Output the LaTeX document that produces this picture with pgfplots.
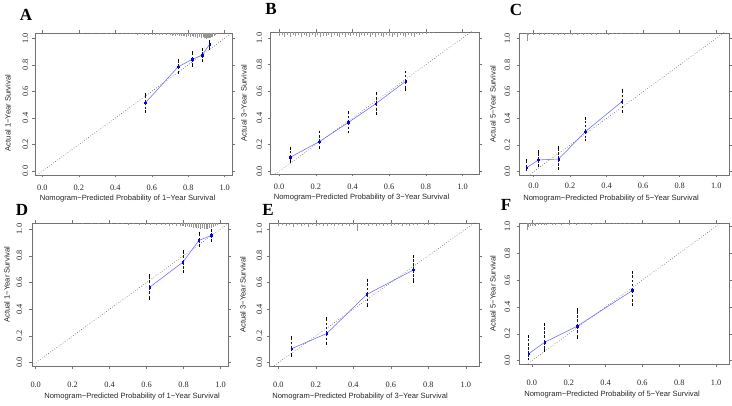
\documentclass[border=0pt]{standalone}
\usepackage{fontspec}
\setmainfont{Liberation Serif}
\newfontfamily\arialf{Liberation Sans}
\usepackage{pgfplots}
\pgfplotsset{compat=1.18}
\definecolor{calblue}{RGB}{105,105,255}
\definecolor{rugc}{RGB}{150,150,150}
\pgfplotsset{
 calib/.style={
  scale only axis, anchor=south west,
  axis line style={black!55, line width=0.45pt},
  tick style={black!55, line width=0.45pt},
  tick align=outside, major tick length=2.5pt,
  xtick={0,0.2,0.4,0.6,0.8,1.0}, ytick={0,0.2,0.4,0.6,0.8,1.0},
  /pgf/number format/fixed, /pgf/number format/fixed zerofill,
  /pgf/number format/precision=1, /pgf/number format/assume math mode=true,
  ticklabel style={font=\fontsize{8.3}{9}\selectfont, text=black!85},
  label style={font=\arialf\fontsize{7.6}{9}\selectfont, text=black!85},
 },
 xtl/.style={xticklabel style={anchor=center, yshift=-#1}},
 ytl/.style={yticklabel style={xshift=-#1, rotate=90, anchor=center}},
 xlab/.style 2 args={xlabel style={at={([xshift=#1,yshift=#2]rel axis cs:0.5,0)}, anchor=center}},
 ylab/.style 2 args={ylabel style={at={([xshift=#1,yshift=#2]rel axis cs:0,0.5)}, anchor=center}},
 diag/.style={dotted, black!75, line width=0.55pt},
 rug/.style={draw=none, mark=none, error bars/.cd, y dir=minus, y explicit, error mark=none,
   error bar style={draw=rugc, line width=0.4pt}},
 cal/.style={calblue, line width=0.55pt, mark=square*, mark size=0.8pt, mark options={blue, solid},
   error bars/.cd, y dir=both, y explicit,
   error bar style={black!90, dashed, dash pattern=on 2.6pt off 1.6pt, line width=0.55pt},
   error mark options={black, solid, mark size=1.3pt, line width=0.55pt}},
}
\begin{document}
\begin{tikzpicture}
\path[use as bounding box] (0pt,0pt) rectangle (732pt,405pt);
\tikzset{panel/.style={font=\fontsize{17}{17}\selectfont\bfseries}}
\node[panel] at (26pt,390pt) {A};
\node[panel] at (271pt,396pt) {B};
\node[panel] at (516pt,395pt) {C};
\node[panel] at (22pt,195pt) {D};
\node[panel] at (268pt,195pt) {E};
\node[panel] at (506pt,200pt) {F};

% ---------------- A
\begin{axis}[calib, at={(35pt,230pt)}, width=197pt, height=142pt,
  xmin=-0.04, xmax=1.04, ymin=-0.03, ymax=1.04,
  xtl=10pt, ytl=7pt, xlab={-6pt}{-24pt}, ylab={-27pt}{-9pt},
  xlabel={Nomogram−Predicted Probability of 1−Year Survival},
  ylabel={Actual 1−Year Survival}]
\addplot[diag] coordinates {(-0.2,-0.2) (1.2,1.2)};
\addplot[rug] coordinates {
(0.22,1.04) -= (0,0.004) (0.27,1.04) -= (0,0.005) (0.31,1.04) -= (0,0.006) (0.35,1.04) -= (0,0.006)
(0.38,1.04) -= (0,0.008) (0.41,1.04) -= (0,0.007) (0.44,1.04) -= (0,0.009) (0.46,1.04) -= (0,0.008)
(0.48,1.04) -= (0,0.011) (0.50,1.04) -= (0,0.009) (0.52,1.04) -= (0,0.012) (0.54,1.04) -= (0,0.010)
(0.56,1.04) -= (0,0.013) (0.58,1.04) -= (0,0.012) (0.60,1.04) -= (0,0.015) (0.62,1.04) -= (0,0.012)
(0.64,1.04) -= (0,0.016) (0.66,1.04) -= (0,0.014) (0.68,1.04) -= (0,0.018) (0.70,1.04) -= (0,0.015)
(0.71,1.04) -= (0,0.019) (0.72,1.04) -= (0,0.016) (0.73,1.04) -= (0,0.021) (0.74,1.04) -= (0,0.018)
(0.75,1.04) -= (0,0.023) (0.76,1.04) -= (0,0.019) (0.77,1.04) -= (0,0.025) (0.78,1.04) -= (0,0.021)
(0.79,1.04) -= (0,0.027) (0.80,1.04) -= (0,0.022) (0.81,1.04) -= (0,0.029) (0.82,1.04) -= (0,0.025)
(0.83,1.04) -= (0,0.031) (0.84,1.04) -= (0,0.027) (0.85,1.04) -= (0,0.034) (0.86,1.04) -= (0,0.029)
(0.87,1.04) -= (0,0.037) (0.88,1.04) -= (0,0.032) (0.89,1.04) -= (0,0.040) (0.895,1.04) -= (0,0.034)
(0.90,1.04) -= (0,0.042) (0.905,1.04) -= (0,0.036) (0.91,1.04) -= (0,0.040) (0.915,1.04) -= (0,0.038)
(0.92,1.04) -= (0,0.036) (0.925,1.04) -= (0,0.030) (0.93,1.04) -= (0,0.028) (0.94,1.04) -= (0,0.020)
(0.95,1.04) -= (0,0.012)};
\addplot[cal] coordinates {
(0.566,0.515) += (0,0.063) -= (0,0.068)
(0.745,0.786) += (0,0.051) -= (0,0.045)
(0.823,0.842) += (0,0.050) -= (0,0.048)
(0.876,0.874) += (0,0.043) -= (0,0.045)
(0.918,0.955) += (0,0.020) -= (0,0.030)};
\end{axis}

% ---------------- B
\begin{axis}[calib, at={(270pt,231pt)}, width=209pt, height=142pt,
  xmin=-0.05, xmax=1.09, ymin=-0.02, ymax=1.045,
  xtl=10pt, ytl=8pt, xlab={-13pt}{-24pt}, ylab={-26pt}{0pt},
  xlabel={Nomogram−Predicted Probability of 3−Year Survival},
  ylabel={Actual 3−Year Survival}]
\addplot[diag] coordinates {(-0.2,-0.2) (1.2,1.2)};
\addplot[rug] coordinates {
(0.000,1.045) -= (0,0.030) (0.015,1.045) -= (0,0.020) (0.030,1.045) -= (0,0.035) (0.045,1.045) -= (0,0.022)
(0.060,1.045) -= (0,0.040) (0.075,1.045) -= (0,0.025) (0.090,1.045) -= (0,0.032) (0.105,1.045) -= (0,0.020)
(0.120,1.045) -= (0,0.036) (0.135,1.045) -= (0,0.024) (0.150,1.045) -= (0,0.030) (0.165,1.045) -= (0,0.038)
(0.180,1.045) -= (0,0.022) (0.195,1.045) -= (0,0.034) (0.210,1.045) -= (0,0.026) (0.225,1.045) -= (0,0.040)
(0.240,1.045) -= (0,0.028) (0.255,1.045) -= (0,0.032) (0.270,1.045) -= (0,0.020) (0.285,1.045) -= (0,0.036)
(0.300,1.045) -= (0,0.024) (0.315,1.045) -= (0,0.030) (0.330,1.045) -= (0,0.038) (0.345,1.045) -= (0,0.022)
(0.360,1.045) -= (0,0.034) (0.375,1.045) -= (0,0.026) (0.390,1.045) -= (0,0.032) (0.405,1.045) -= (0,0.020)
(0.420,1.045) -= (0,0.028) (0.435,1.045) -= (0,0.036) (0.450,1.045) -= (0,0.022) (0.465,1.045) -= (0,0.030)
(0.480,1.045) -= (0,0.024) (0.495,1.045) -= (0,0.034) (0.510,1.045) -= (0,0.026) (0.525,1.045) -= (0,0.038)
(0.540,1.045) -= (0,0.022) (0.555,1.045) -= (0,0.032) (0.570,1.045) -= (0,0.040) (0.585,1.045) -= (0,0.024)
(0.600,1.045) -= (0,0.030) (0.615,1.045) -= (0,0.036) (0.630,1.045) -= (0,0.020) (0.645,1.045) -= (0,0.034)
(0.660,1.045) -= (0,0.026) (0.675,1.045) -= (0,0.030) (0.690,1.045) -= (0,0.038) (0.705,1.045) -= (0,0.022)
(0.720,1.045) -= (0,0.028) (0.735,1.045) -= (0,0.034) (0.750,1.045) -= (0,0.018) (0.765,1.045) -= (0,0.026)
(0.780,1.045) -= (0,0.014) (0.800,1.045) -= (0,0.018) (0.820,1.045) -= (0,0.010) (0.840,1.045) -= (0,0.008)};
\addplot[cal] coordinates {
(0.060,0.105) += (0,0.065) -= (0,0.030)
(0.218,0.222) += (0,0.073) -= (0,0.047)
(0.378,0.367) += (0,0.073) -= (0,0.072)
(0.527,0.507) += (0,0.080) -= (0,0.075)
(0.690,0.675) += (0,0.070) -= (0,0.063)};
\end{axis}

% ---------------- C
\begin{axis}[calib, at={(519pt,230pt)}, width=210pt, height=142pt,
  xmin=-0.08, xmax=1.07, ymin=-0.025, ymax=1.04,
  xtl=8pt, ytl=9pt, xlab={-13pt}{-24pt}, ylab={-26pt}{0pt},
  xlabel={Nomogram−Predicted Probability of 5−Year Survival},
  ylabel={Actual 5−Year Survival}]
\addplot[diag] coordinates {(-0.2,-0.2) (1.2,1.2)};
\addplot[rug] coordinates {
(-0.035,1.04) -= (0,0.060) (-0.030,1.04) -= (0,0.012) (-0.015,1.04) -= (0,0.010) (0.000,1.04) -= (0,0.013)
(0.015,1.04) -= (0,0.009) (0.030,1.04) -= (0,0.012) (0.045,1.04) -= (0,0.010) (0.060,1.04) -= (0,0.014)
(0.075,1.04) -= (0,0.009) (0.090,1.04) -= (0,0.011) (0.105,1.04) -= (0,0.013) (0.120,1.04) -= (0,0.009)
(0.135,1.04) -= (0,0.012) (0.150,1.04) -= (0,0.010) (0.165,1.04) -= (0,0.014) (0.180,1.04) -= (0,0.009)
(0.195,1.04) -= (0,0.011) (0.210,1.04) -= (0,0.013) (0.225,1.04) -= (0,0.009) (0.240,1.04) -= (0,0.012)
(0.255,1.04) -= (0,0.010) (0.270,1.04) -= (0,0.013) (0.285,1.04) -= (0,0.009) (0.300,1.04) -= (0,0.011)
(0.315,1.04) -= (0,0.012) (0.330,1.04) -= (0,0.009) (0.345,1.04) -= (0,0.013) (0.360,1.04) -= (0,0.010)
(0.375,1.04) -= (0,0.011) (0.390,1.04) -= (0,0.009) (0.410,1.04) -= (0,0.012) (0.430,1.04) -= (0,0.008)
(0.450,1.04) -= (0,0.010) (0.480,1.04) -= (0,0.008) (0.510,1.04) -= (0,0.007) (0.550,1.04) -= (0,0.006)
(0.580,1.04) -= (0,0.005)};
\addplot[cal] coordinates {
(-0.038,0.030) += (0,0.058) -= (0,0.018)
(0.027,0.088) += (0,0.062) -= (0,0.043)
(0.137,0.095) += (0,0.085) -= (0,0.070)
(0.283,0.300) += (0,0.100) -= (0,0.063)
(0.483,0.525) += (0,0.088) -= (0,0.075)};
\end{axis}

% ---------------- D
\begin{axis}[calib, at={(32pt,39pt)}, width=196pt, height=143pt,
  xmin=-0.02, xmax=1.04, ymin=-0.025, ymax=1.045,
  xtl=16pt, ytl=10pt, xlab={2pt}{-31pt}, ylab={-25pt}{10pt},
  xlabel={Nomogram−Predicted Probability of 1−Year Survival},
  ylabel={Actual 1−Year Survival}]
\addplot[diag] coordinates {(-0.2,-0.2) (1.2,1.2)};
\addplot[rug] coordinates {
(0.25,1.045) -= (0,0.005) (0.30,1.045) -= (0,0.006) (0.34,1.045) -= (0,0.007) (0.38,1.045) -= (0,0.008)
(0.41,1.045) -= (0,0.007) (0.44,1.045) -= (0,0.010) (0.47,1.045) -= (0,0.009) (0.50,1.045) -= (0,0.012)
(0.53,1.045) -= (0,0.010) (0.56,1.045) -= (0,0.014) (0.59,1.045) -= (0,0.012) (0.62,1.045) -= (0,0.016)
(0.65,1.045) -= (0,0.013) (0.68,1.045) -= (0,0.018) (0.70,1.045) -= (0,0.015) (0.72,1.045) -= (0,0.020)
(0.74,1.045) -= (0,0.017) (0.76,1.045) -= (0,0.023) (0.78,1.045) -= (0,0.019) (0.79,1.045) -= (0,0.026)
(0.80,1.045) -= (0,0.021) (0.81,1.045) -= (0,0.029) (0.82,1.045) -= (0,0.024) (0.83,1.045) -= (0,0.032)
(0.84,1.045) -= (0,0.027) (0.85,1.045) -= (0,0.036) (0.86,1.045) -= (0,0.030) (0.87,1.045) -= (0,0.040)
(0.88,1.045) -= (0,0.034) (0.89,1.045) -= (0,0.045) (0.90,1.045) -= (0,0.038) (0.91,1.045) -= (0,0.048)
(0.92,1.045) -= (0,0.042) (0.93,1.045) -= (0,0.046) (0.94,1.045) -= (0,0.040) (0.95,1.045) -= (0,0.036)
(0.96,1.045) -= (0,0.028) (0.97,1.045) -= (0,0.020) (0.98,1.045) -= (0,0.012)};
\addplot[cal] coordinates {
(0.616,0.564) += (0,0.093) -= (0,0.083)
(0.796,0.752) += (0,0.080) -= (0,0.070)
(0.883,0.915) += (0,0.055) -= (0,0.040)
(0.951,0.952) += (0,0.038) -= (0,0.037)};
\end{axis}

% ---------------- E
\begin{axis}[calib, at={(269pt,39pt)}, width=210pt, height=143pt,
  xmin=-0.05, xmax=1.07, ymin=-0.025, ymax=1.045,
  xtl=16pt, ytl=7pt, xlab={-14pt}{-31pt}, ylab={-26pt}{0pt},
  xlabel={Nomogram−Predicted Probability of 3−Year Survival},
  ylabel={Actual 3−Year Survival}]
\addplot[diag] coordinates {(-0.2,-0.2) (1.2,1.2)};
\addplot[rug] coordinates {
(0.000,1.045) -= (0,0.020) (0.020,1.045) -= (0,0.012) (0.040,1.045) -= (0,0.024) (0.060,1.045) -= (0,0.015)
(0.080,1.045) -= (0,0.028) (0.100,1.045) -= (0,0.014) (0.120,1.045) -= (0,0.022) (0.140,1.045) -= (0,0.018)
(0.160,1.045) -= (0,0.032) (0.180,1.045) -= (0,0.015) (0.200,1.045) -= (0,0.024) (0.220,1.045) -= (0,0.013)
(0.240,1.045) -= (0,0.020) (0.260,1.045) -= (0,0.026) (0.280,1.045) -= (0,0.014) (0.300,1.045) -= (0,0.022)
(0.320,1.045) -= (0,0.016) (0.340,1.045) -= (0,0.025) (0.360,1.045) -= (0,0.013) (0.380,1.045) -= (0,0.020)
(0.400,1.045) -= (0,0.015) (0.420,1.045) -= (0,0.060) (0.440,1.045) -= (0,0.018) (0.460,1.045) -= (0,0.012)
(0.480,1.045) -= (0,0.022) (0.500,1.045) -= (0,0.015) (0.520,1.045) -= (0,0.026) (0.540,1.045) -= (0,0.013)
(0.560,1.045) -= (0,0.020) (0.580,1.045) -= (0,0.016) (0.600,1.045) -= (0,0.024) (0.620,1.045) -= (0,0.012)
(0.640,1.045) -= (0,0.018) (0.660,1.045) -= (0,0.022) (0.680,1.045) -= (0,0.014) (0.700,1.045) -= (0,0.020)
(0.720,1.045) -= (0,0.012) (0.740,1.045) -= (0,0.018) (0.760,1.045) -= (0,0.010) (0.780,1.045) -= (0,0.015)
(0.800,1.045) -= (0,0.012) (0.830,1.045) -= (0,0.016) (0.860,1.045) -= (0,0.010)};
\addplot[cal] coordinates {
(0.071,0.105) += (0,0.088) -= (0,0.050)
(0.258,0.218) += (0,0.113) -= (0,0.075)
(0.472,0.511) += (0,0.108) -= (0,0.087)
(0.721,0.694) += (0,0.100) -= (0,0.088)};
\end{axis}

% ---------------- F
\begin{axis}[calib, at={(519pt,41pt)}, width=210pt, height=141pt,
  xmin=-0.07, xmax=1.07, ymin=-0.025, ymax=1.025,
  xtl=16pt, ytl=9pt, xlab={-12pt}{-31pt}, ylab={-26pt}{0pt},
  xlabel={Nomogram−Predicted Probability of 5−Year Survival},
  ylabel={Actual 5−Year Survival}]
\addplot[diag] coordinates {(-0.2,-0.2) (1.2,1.2)};
\addplot[rug] coordinates {
(-0.025,1.025) -= (0,0.050) (-0.020,1.025) -= (0,0.028) (-0.010,1.025) -= (0,0.022) (0.000,1.025) -= (0,0.026)
(0.010,1.025) -= (0,0.018) (0.020,1.025) -= (0,0.022) (0.035,1.025) -= (0,0.014) (0.050,1.025) -= (0,0.018)
(0.065,1.025) -= (0,0.012) (0.080,1.025) -= (0,0.015) (0.095,1.025) -= (0,0.010) (0.110,1.025) -= (0,0.013)
(0.125,1.025) -= (0,0.016) (0.140,1.025) -= (0,0.010) (0.160,1.025) -= (0,0.014) (0.180,1.025) -= (0,0.009)
(0.200,1.025) -= (0,0.012) (0.220,1.025) -= (0,0.010) (0.240,1.025) -= (0,0.015) (0.260,1.025) -= (0,0.009)
(0.280,1.025) -= (0,0.011) (0.300,1.025) -= (0,0.008) (0.320,1.025) -= (0,0.012) (0.340,1.025) -= (0,0.009)
(0.360,1.025) -= (0,0.010) (0.380,1.025) -= (0,0.008) (0.400,1.025) -= (0,0.011) (0.420,1.025) -= (0,0.008)
(0.440,1.025) -= (0,0.010) (0.460,1.025) -= (0,0.007) (0.480,1.025) -= (0,0.009) (0.500,1.025) -= (0,0.007)
(0.530,1.025) -= (0,0.008) (0.560,1.025) -= (0,0.006) (0.590,1.025) -= (0,0.007) (0.620,1.025) -= (0,0.005)};
\addplot[cal] coordinates {
(-0.018,0.050) += (0,0.130) -= (0,0.038)
(0.069,0.137) += (0,0.132) -= (0,0.062)
(0.245,0.256) += (0,0.125) -= (0,0.082)
(0.545,0.522) += (0,0.137) -= (0,0.107)};
\end{axis}
\end{tikzpicture}
\end{document}
